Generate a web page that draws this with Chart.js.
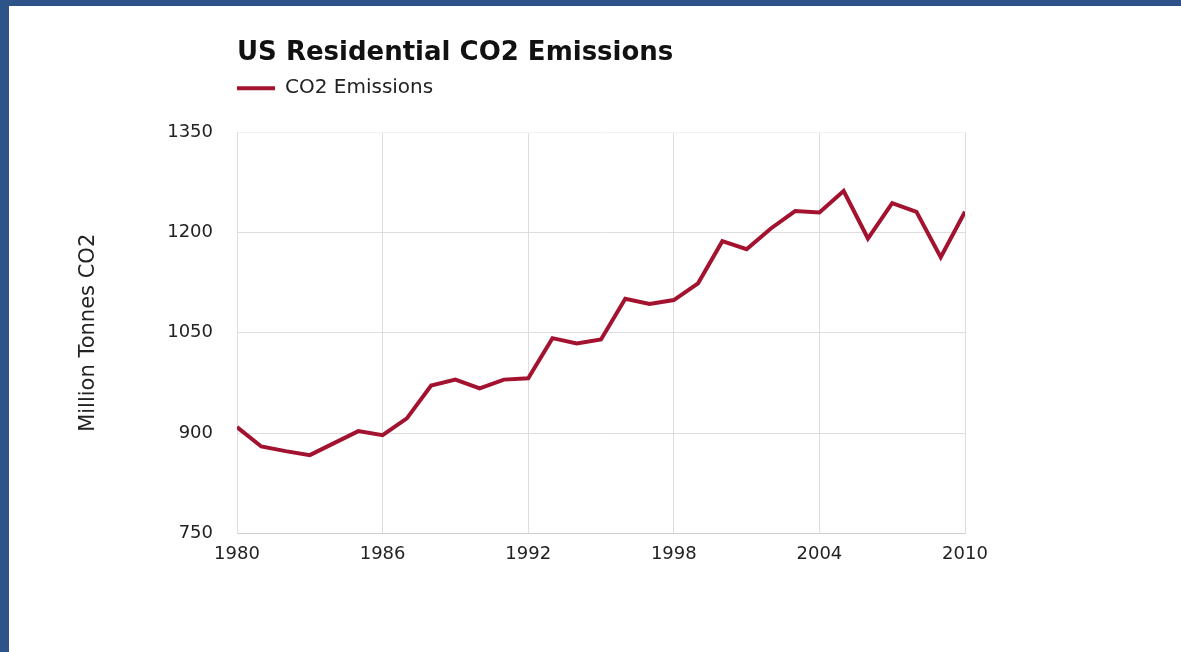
<!DOCTYPE html>
<html>
<head>
<meta charset="utf-8">
<title>US Residential CO2 Emissions</title>
<script src="https://cdn.jsdelivr.net/npm/chart.js@4.4.1/dist/chart.umd.min.js"></script>
<style>
  html, body { margin: 0; padding: 0; }
  body { width: 1181px; height: 652px; background: #2d5388; overflow: hidden; position: relative; }
  #panel { position: absolute; left: 9px; top: 6px; width: 1172px; height: 646px; background: #fff; }
  #co2Chart { display: block; }
</style>
</head>
<body>
<div id="panel">
  <canvas id="co2Chart" width="1172" height="646"></canvas>
</div>
<script>
// Data (million tonnes CO2 per year)
const years = [1980, 1981, 1982, 1983, 1984, 1985, 1986, 1987, 1988, 1989,
               1990, 1991, 1992, 1993, 1994, 1995, 1996, 1997, 1998, 1999,
               2000, 2001, 2002, 2003, 2004, 2005, 2006, 2007, 2008, 2009, 2010];
const emissions = [909, 880, 873, 867, 885, 903, 897, 922, 971, 980,
                   967, 980, 982, 1042, 1034, 1040, 1101, 1093, 1099, 1124,
                   1187, 1175, 1206, 1232, 1230, 1262, 1191, 1244, 1231, 1163, 1231];
const yTicks = [750, 900, 1050, 1200, 1350];
const xTicks = [1980, 1986, 1992, 1998, 2004, 2010];

const seriesName = "CO2 Emissions";
const lineColor = "#a3122f";
const fontFamily = "'DejaVu Sans', sans-serif";

const points = years.map((y, i) => ({ x: y, y: emissions[i] }));

// push the plot area down a bit below the legend
const legendGap = {
  id: "legendGap",
  beforeInit(chart) {
    const fit = chart.legend.fit;
    chart.legend.fit = function () {
      fit.bind(chart.legend)();
      this.height += 24;
    };
  }
};

new Chart(document.getElementById("co2Chart"), {
  type: "line",
  data: {
    datasets: [{
      label: seriesName,
      data: points,
      borderColor: lineColor,
      backgroundColor: lineColor,
      borderWidth: 4,
      pointRadius: 0,
      tension: 0,
      fill: false
    }]
  },
  options: {
    responsive: false,
    animation: false,
    layout: { padding: { left: 67, right: 216, top: 0, bottom: 77 } },
    plugins: {
      title: {
        display: true,
        text: "US Residential CO2 Emissions",
        align: "start",
        fullSize: false,
        color: "#111",
        font: { family: fontFamily, size: 26, weight: "bold" },
        padding: { top: 32, bottom: 9 }
      },
      legend: {
        display: true,
        align: "start",
        fullSize: false,
        labels: {
          color: "#222",
          font: { family: fontFamily, size: 20 },
          boxWidth: 38,
          boxHeight: 4,
          padding: 0,
          generateLabels(chart) {
            return Chart.defaults.plugins.legend.labels.generateLabels(chart)
              .map(item => ({ ...item, lineWidth: 0, fillStyle: lineColor }));
          }
        }
      },
      tooltip: { enabled: false }
    },
    scales: {
      x: {
        type: "linear",
        min: 1980,
        max: 2010,
        afterBuildTicks(axis) { axis.ticks = xTicks.map(v => ({ value: v })); },
        ticks: {
          color: "#222",
          font: { family: fontFamily, size: 18 },
          padding: 10,
          callback: v => String(v)
        },
        grid: { color: "#dedede", lineWidth: 1, drawTicks: false },
        border: { color: "#cfcfcf" }
      },
      y: {
        min: 750,
        max: 1350,
        afterBuildTicks(axis) { axis.ticks = yTicks.map(v => ({ value: v })); },
        title: {
          display: true,
          text: "Million Tonnes CO2",
          color: "#222",
          font: { family: fontFamily, size: 21 },
          padding: { top: 0, bottom: 42 }
        },
        ticks: {
          color: "#222",
          font: { family: fontFamily, size: 18 },
          padding: 24,
          callback: v => String(v)
        },
        grid: {
          color: ctx => (ctx.tick && ctx.tick.value === 1350 ? "#f3f3f3" : "#dedede"),
          lineWidth: 1,
          drawTicks: false
        },
        border: { color: "#dedede" }
      }
    }
  },
  plugins: [legendGap]
});
</script>
</body>
</html>
